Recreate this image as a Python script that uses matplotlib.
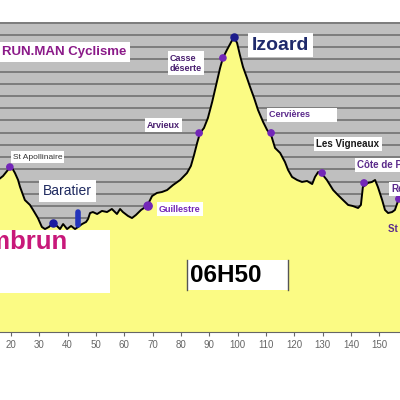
import matplotlib.pyplot as plt
from matplotlib.patches import Rectangle

plt.rcParams['font.family'] = ['Liberation Sans', 'DejaVu Sans']

# profil : distance (km) / altitude (m)
km = [15.4, 17.2, 18.9, 19.6, 20.4, 21.4, 22.5, 23.2, 24.9, 26.7, 27.8, 29.5,
      30.9, 32.0, 33.4, 34.8, 36.2, 37.3, 38.4, 39.8, 41.2, 42.6, 43.7, 45.1,
      46.5, 47.2, 47.9, 48.9, 50.4, 52.1, 53.9, 55.6, 57.4, 58.5, 59.5, 61.3,
      62.7, 64.1, 65.9, 66.9, 68.4, 69.8, 71.5, 73.3, 75.1, 77.2, 79.7, 82.1,
      83.5, 84.6, 85.7, 86.7, 88.1, 89.5, 91.0, 92.4, 93.8, 94.8, 96.2, 97.7,
      98.7, 99.8, 100.8, 101.9, 103.3, 104.4, 105.8, 107.2, 109.0, 110.4,
      111.8, 113.2, 115.0, 116.7, 117.8, 119.2, 121.0, 122.7, 124.5, 126.3,
      127.3, 128.4, 129.8, 131.5, 132.6, 133.7, 135.4, 137.2, 139.0, 140.7,
      142.5, 143.5, 144.2, 146.0, 147.4, 148.5, 149.5, 151.0, 152.0, 153.1,
      154.5, 155.5, 156.6, 158.0]
alt = [1213, 1246, 1295, 1319, 1311, 1270, 1213, 1156, 1049, 1009, 968, 902,
       829, 812, 829, 861, 837, 812, 853, 812, 837, 812, 829, 853,
       870, 894, 943, 951, 935, 960, 951, 976, 935, 976, 951, 919,
       902, 927, 968, 984, 1017, 1082, 1107, 1115, 1131, 1172, 1213, 1270,
       1328, 1417, 1516, 1597, 1638, 1720, 1851, 1990, 2129, 2211, 2276, 2341,
       2382, 2333, 2235, 2137, 2047, 1973, 1884, 1785, 1687, 1622,
       1581, 1475, 1434, 1360, 1295, 1238, 1213, 1197, 1205, 1180,
       1238, 1278, 1262, 1213, 1172, 1131, 1090, 1049, 1009, 1000,
       984, 1009, 1156, 1189, 1197, 1213, 1156, 1049, 968, 943,
       951, 968, 1041, 1099]

# points remarquables (violets)
cols_nom = ['St Apollinaire', 'Guillestre', 'Arvieux', 'Casse\ndéserte',
            'Cervières', 'Les Vigneaux', 'Côte de Pallon', 'Réotier']
cols_km = [19.6, 68.4, 86.4, 94.8, 111.8, 129.8, 144.6, 156.9]
cols_alt = [1319, 1000, 1597, 2211, 1598, 1270, 1189, 1058]

sommet_nom = 'Izoard'
sommet_km, sommet_alt = 98.7, 2382

baratier_km, baratier_alt = 34.8, 861
embrun_km = 43.6
embrun_alt = [845, 950]

ticks_km = list(range(20, 160, 10))

fig = plt.figure(figsize=(4, 4), dpi=100)
ax = fig.add_axes([0, 0.17, 1, 0.775])
ax.set_xlim(16.12, 157.3)
ax.set_ylim(-30, 2505)
ax.set_facecolor('#bfbfbf')

ax.set_yticks(range(0, 2600, 100))
ax.yaxis.grid(True, color='#727272', lw=1.2)
ax.set_axisbelow(True)
ax.tick_params(axis='y', left=False, labelleft=False)
ax.set_xticks(ticks_km)
ax.tick_params(axis='x', length=3, width=0.8, colors='#666666', labelsize=7, pad=3)
for s in ['left', 'right', 'top']:
    ax.spines[s].set_visible(False)
ax.spines['bottom'].set_color('#666666')

ax.fill_between(km, alt, -30, color='#fbfb84', zorder=2)
ax.plot(km, alt, color='black', lw=1.4, zorder=3)

violet = '#7326b8'
sizes = [20, 34, 20, 20, 20, 20, 20, 20]
ax.scatter(cols_km, cols_alt, s=sizes, color=violet, zorder=4)
ax.scatter([sommet_km], [sommet_alt], s=26, color='#1c1c8c', zorder=4)
ax.scatter([baratier_km], [baratier_alt], s=26, color='#1c1ca0', zorder=4)
ax.plot([embrun_km, embrun_km], embrun_alt, color='#2233bb', lw=4,
        solid_capstyle='round', zorder=4)

box = dict(boxstyle='square,pad=0.25', fc='white', ec='none')
# decalages des etiquettes (pixels)
offsets = [(3, 10), (11, -3), (-52, 8), (-53, -5.5), (-2, 18), (-6, 29),
           (-7, 18), (-7, 10)]
couleurs = ['#333333', violet, '#4a2070', '#4a2070', '#5b2a8b', '#1a1a1a',
            '#5b2a8b', '#5b2a8b']
tailles = [6, 6.5, 6.5, 6.5, 6.5, 7, 7, 7]
for i, nom in enumerate(cols_nom):
    txt = nom + '          ' if nom == 'Cervières' else nom
    ax.annotate(txt, (cols_km[i], cols_alt[i]), xytext=offsets[i],
                textcoords='offset pixels', ha='left', va='center',
                fontsize=tailles[i], color=couleurs[i],
                fontweight='normal' if i == 0 else 'bold',
                bbox=box, zorder=6, annotation_clip=False)

ax.annotate(sommet_nom, (sommet_km, sommet_alt), xytext=(18, -8),
            textcoords='offset pixels', ha='left', va='center', fontsize=14,
            fontweight='bold', color='#1f2a6b',
            bbox=dict(boxstyle='square,pad=0.2', fc='white', ec='none'), zorder=6)
ax.annotate('St Crépin', (160.5, 930), xytext=(-21, -14),
            textcoords='offset pixels', ha='left', va='center', fontsize=7,
            fontweight='bold', color='#5b2a8b', zorder=6, annotation_clip=False)
ax.annotate('Baratier', (baratier_km, baratier_alt), xytext=(-10, 32),
            textcoords='offset pixels', ha='left', va='center', fontsize=10,
            color='#1f2a60',
            bbox=dict(boxstyle='square,pad=0.3', fc='white', ec='none'), zorder=6)

# cartouche Embrun
ax.add_patch(Rectangle((0, 0.126), 0.275, 0.203, transform=ax.transAxes,
                       fc='white', ec='none', zorder=5))
ax.annotate('Embrun', (embrun_km, embrun_alt[0]), xytext=(-10, -17),
            textcoords='offset pixels', ha='right', va='center', fontsize=18.5,
            fontweight='bold', color='#c8187a', zorder=6, annotation_clip=False)

# cartouche horaire
ax.add_patch(Rectangle((0.4675, 0.135), 0.2525, 0.097, transform=ax.transAxes,
                       fc='white', ec='none', zorder=5))
ax.plot([0.4675, 0.4675], [0.135, 0.232], transform=ax.transAxes,
        color='#555555', lw=1, zorder=6)
ax.plot([0.72, 0.72], [0.135, 0.232], transform=ax.transAxes,
        color='#555555', lw=1, zorder=6)
ax.text(0.475, 0.181, '06H50', transform=ax.transAxes, ha='left', va='center',
        fontsize=17.5, fontweight='bold', color='black', zorder=7)

fig.text(0.005, 1 - 52 / 400, 'RUN.MAN Cyclisme', ha='left', va='center',
         fontsize=9.5, fontweight='bold', color='#8b1a89',
         bbox=dict(boxstyle='square,pad=0.3', fc='white', ec='none'), zorder=6)

fig.savefig('out.png', dpi=100)
